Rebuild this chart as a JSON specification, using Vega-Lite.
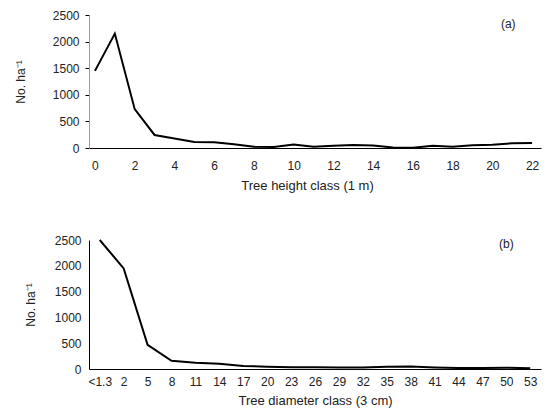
{
  "$schema": "https://vega.github.io/schema/vega-lite/v6.json",
  "padding": {"left": 14, "top": 9, "right": 6, "bottom": 4},
  "spacing": 42,
  "config": {
    "font": "Liberation Sans",
    "view": {"stroke": null},
    "axis": {"labelFontSize": 12, "titleFontSize": 12, "titleFontWeight": "normal", "labelColor": "#222222", "titleColor": "#222222", "domainColor": "black", "tickColor": "black", "grid": false, "labelFont": "Liberation Sans", "titleFont": "Liberation Sans", "labelOverlap": false}
  },
  "datasets": {
    "height": [
      {"h": 0, "n": 1450}, {"h": 1, "n": 2150}, {"h": 2, "n": 730}, {"h": 3, "n": 245},
      {"h": 4, "n": 180}, {"h": 5, "n": 115}, {"h": 6, "n": 110}, {"h": 7, "n": 70},
      {"h": 8, "n": 25}, {"h": 9, "n": 20}, {"h": 10, "n": 65}, {"h": 11, "n": 25},
      {"h": 12, "n": 40}, {"h": 13, "n": 55}, {"h": 14, "n": 45}, {"h": 15, "n": 10},
      {"h": 16, "n": 5}, {"h": 17, "n": 40}, {"h": 18, "n": 25}, {"h": 19, "n": 50},
      {"h": 20, "n": 60}, {"h": 21, "n": 90}, {"h": 22, "n": 95}
    ],
    "diameter": [
      {"d": "<1.3", "n": 2500}, {"d": "2", "n": 1950}, {"d": "5", "n": 470}, {"d": "8", "n": 160},
      {"d": "11", "n": 120}, {"d": "14", "n": 100}, {"d": "17", "n": 60}, {"d": "20", "n": 45},
      {"d": "23", "n": 35}, {"d": "26", "n": 35}, {"d": "29", "n": 30}, {"d": "32", "n": 30},
      {"d": "35", "n": 45}, {"d": "38", "n": 50}, {"d": "41", "n": 30}, {"d": "44", "n": 20},
      {"d": "47", "n": 20}, {"d": "50", "n": 25}, {"d": "53", "n": 15}
    ],
    "labels": [{"panel": "a", "label": "(a)"}, {"panel": "b", "label": "(b)"}]
  },
  "vconcat": [
    {
      "width": 452,
      "height": 133,
      "encoding": {
        "x": {"type": "quantitative", "scale": {"domain": [-0.3, 22.45], "nice": false, "zero": false},
              "axis": {"values": [0, 2, 4, 6, 8, 10, 12, 14, 16, 18, 20, 22], "ticks": false, "labelOverlap": false, "title": "Tree height class (1 m)", "titleFontSize": 13, "titleX": 218, "labelPadding": 12, "titlePadding": 8}},
        "y": {"type": "quantitative", "scale": {"domain": [0, 2500], "nice": false},
              "axis": {"values": [0, 500, 1000, 1500, 2000, 2500], "labelOverlap": false, "format": "d", "tickSize": 4, "domainColor": "#999999", "title": "No. ha⁻¹", "labelPadding": 6, "titlePadding": 25}}
      },
      "layer": [
        {
          "data": {"name": "height"},
          "mark": {"type": "line", "color": "black", "strokeWidth": 2},
          "encoding": {
            "x": {"field": "h"},
            "y": {"field": "n"}
          }
        },
        {
          "data": {"name": "labels"},
          "transform": [{"filter": "datum.panel === 'a'"}],
          "mark": {"type": "text", "fontSize": 12, "font": "Liberation Sans", "fontWeight": "normal", "color": "#222222"},
          "encoding": {
            "x": {"datum": 20.8},
            "y": {"datum": 2330},
            "text": {"field": "label"}
          }
        }
      ]
    },
    {
      "width": 452,
      "height": 129,
      "encoding": {
        "x": {"type": "ordinal", "sort": null, "scale": {"type": "point", "padding": 0.45, "domain": ["<1.3", "2", "5", "8", "11", "14", "17", "20", "23", "26", "29", "32", "35", "38", "41", "44", "47", "50", "53"]},
              "axis": {"labelAngle": 0, "ticks": false, "labelOverlap": false, "title": "Tree diameter class (3 cm)", "titleFontSize": 13, "labelPadding": 7, "titlePadding": 7}},
        "y": {"type": "quantitative", "scale": {"domain": [0, 2500], "nice": false},
              "axis": {"values": [0, 500, 1000, 1500, 2000, 2500], "labelOverlap": false, "format": "d", "tickSize": 0, "title": "No. ha⁻¹", "labelPadding": 8, "titlePadding": 17}}
      },
      "layer": [
        {
          "data": {"name": "diameter"},
          "mark": {"type": "line", "color": "black", "strokeWidth": 2},
          "encoding": {
            "x": {"field": "d"},
            "y": {"field": "n"}
          }
        },
        {
          "data": {"name": "labels"},
          "transform": [{"filter": "datum.panel === 'b'"}],
          "mark": {"type": "text", "fontSize": 12, "font": "Liberation Sans", "fontWeight": "normal", "color": "#222222"},
          "encoding": {
            "x": {"datum": "50"},
            "y": {"datum": 2420},
            "text": {"field": "label"}
          }
        }
      ]
    }
  ]
}
